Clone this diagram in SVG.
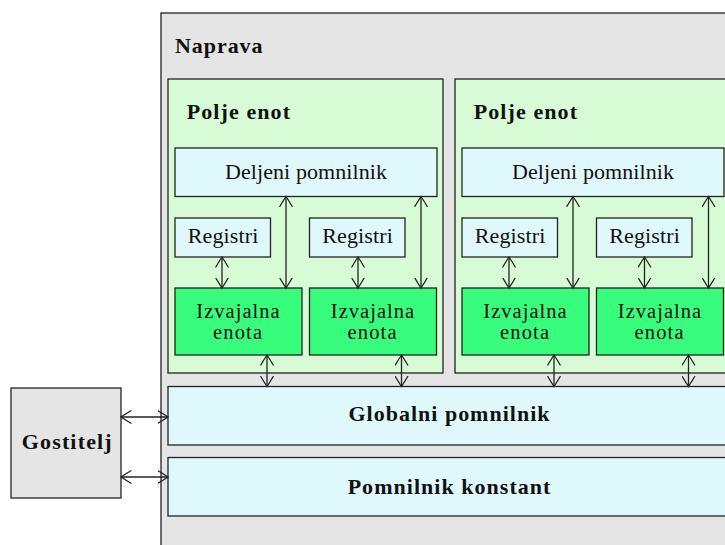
<svg xmlns="http://www.w3.org/2000/svg" width="725" height="545" viewBox="0 0 725 545">
<defs>
<style>
.box{stroke:#222;stroke-width:1.3}
.gray{fill:#e5e5e5}
.field{fill:#d7fcd5}
.mem{fill:#dff8fc}
.exe{fill:#38fc7b}
text{font-family:"Liberation Serif","Times New Roman",serif;font-size:22px;fill:#111;text-anchor:middle}
.b{font-weight:bold;font-size:22px}
.l{text-anchor:start}
.two{font-size:20.5px}
.conn line{stroke:#222;stroke-width:1.3;marker-start:url(#ah);marker-end:url(#ah)}
</style>
<marker id="ah" viewBox="0 0 12 14" markerUnits="userSpaceOnUse" markerWidth="12" markerHeight="14" refX="10.5" refY="7" orient="auto-start-reverse">
<path d="M0.5,0.8 Q6,4 10.5,7 Q6,10 0.5,13.2" fill="none" stroke="#222" stroke-width="1.3" stroke-linecap="round"/>
</marker>
</defs>

<g id="naprava">
<rect class="box gray" x="161" y="13" width="600" height="560"/>
<text class="b l" x="175" y="52.5" textLength="87.5" lengthAdjust="spacing">Naprava</text>
</g>

<g id="polje1">
<rect class="box field" x="168" y="79" width="275" height="294"/>
<text class="b l" x="186.7" y="119" textLength="103.3" lengthAdjust="spacing">Polje enot</text>
</g>
<g id="polje2">
<rect class="box field" x="455" y="79" width="275" height="294"/>
<text class="b l" x="473.7" y="119" textLength="103.3" lengthAdjust="spacing">Polje enot</text>
</g>

<g id="deljeni1">
<rect class="box mem" x="175" y="148" width="262" height="48.5"/>
<text x="306" y="179" textLength="162" lengthAdjust="spacing">Deljeni pomnilnik</text>
</g>
<g id="deljeni2">
<rect class="box mem" x="462" y="148" width="262" height="48.5"/>
<text x="593" y="179" textLength="162" lengthAdjust="spacing">Deljeni pomnilnik</text>
</g>

<g id="registri1a">
<rect class="box mem" x="175" y="218" width="95.5" height="39"/>
<text x="223" y="243.3" textLength="70.6" lengthAdjust="spacing">Registri</text>
</g>
<g id="registri1b">
<rect class="box mem" x="309.5" y="218" width="95.5" height="39"/>
<text x="357.5" y="243.3" textLength="70.6" lengthAdjust="spacing">Registri</text>
</g>
<g id="registri2a">
<rect class="box mem" x="462" y="218" width="95.5" height="39"/>
<text x="510" y="243.3" textLength="70.6" lengthAdjust="spacing">Registri</text>
</g>
<g id="registri2b">
<rect class="box mem" x="596.5" y="218" width="95.5" height="39"/>
<text x="644.5" y="243.3" textLength="70.6" lengthAdjust="spacing">Registri</text>
</g>

<g id="izvajalna1a">
<rect class="box exe" x="175" y="288" width="127" height="67"/>
<text class="two" x="238" y="318.3" textLength="83.3" lengthAdjust="spacing">Izvajalna</text>
<text class="two" x="237.5" y="339.3" textLength="49" lengthAdjust="spacing">enota</text>
</g>
<g id="izvajalna1b">
<rect class="box exe" x="309.5" y="288" width="127" height="67"/>
<text class="two" x="372.5" y="318.3" textLength="83.3" lengthAdjust="spacing">Izvajalna</text>
<text class="two" x="372" y="339.3" textLength="49" lengthAdjust="spacing">enota</text>
</g>
<g id="izvajalna2a">
<rect class="box exe" x="462" y="288" width="127" height="67"/>
<text class="two" x="525" y="318.3" textLength="83.3" lengthAdjust="spacing">Izvajalna</text>
<text class="two" x="524.5" y="339.3" textLength="49" lengthAdjust="spacing">enota</text>
</g>
<g id="izvajalna2b">
<rect class="box exe" x="596.5" y="288" width="127" height="67"/>
<text class="two" x="659.5" y="318.3" textLength="83.3" lengthAdjust="spacing">Izvajalna</text>
<text class="two" x="659" y="339.3" textLength="49" lengthAdjust="spacing">enota</text>
</g>

<g id="globalni">
<rect class="box mem" x="168" y="386.5" width="562" height="58.5"/>
<text class="b" x="449" y="421" textLength="201" lengthAdjust="spacing">Globalni pomnilnik</text>
</g>
<g id="konstant">
<rect class="box mem" x="168" y="457.5" width="562" height="58.5"/>
<text class="b" x="449" y="494.3" textLength="202.7" lengthAdjust="spacing">Pomnilnik konstant</text>
</g>

<g id="gostitelj">
<rect class="box gray" x="11" y="388" width="110" height="110"/>
<text class="b" x="66.7" y="449.3" textLength="90" lengthAdjust="spacing">Gostitelj</text>
</g>

<g id="connectors" class="conn">
<line x1="222" y1="257" x2="222" y2="288"/>
<line x1="358" y1="257" x2="358" y2="288"/>
<line x1="509" y1="257" x2="509" y2="288"/>
<line x1="644.5" y1="257" x2="644.5" y2="288"/>
<line x1="286" y1="196.5" x2="286" y2="288"/>
<line x1="421" y1="196.5" x2="421" y2="288"/>
<line x1="573" y1="196.5" x2="573" y2="288"/>
<line x1="708.5" y1="196.5" x2="708.5" y2="288"/>
<line x1="267" y1="355" x2="267" y2="386.5"/>
<line x1="401.5" y1="355" x2="401.5" y2="386.5"/>
<line x1="554" y1="355" x2="554" y2="386.5"/>
<line x1="688.5" y1="355" x2="688.5" y2="386.5"/>
<line x1="121" y1="417" x2="168" y2="417"/>
<line x1="121" y1="477" x2="168" y2="477"/>
</g>
</svg>
